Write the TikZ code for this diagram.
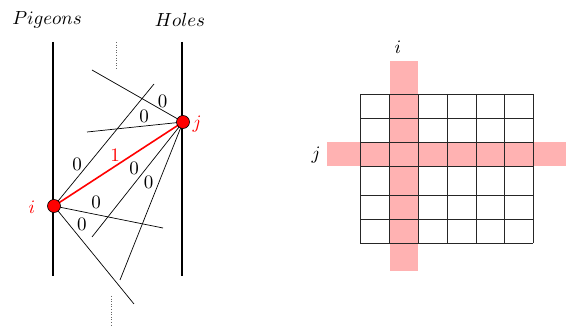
\documentclass[tikz,border=0pt]{standalone}
\usepackage{graphicx}
\newcommand{\bg}[1]{\scalebox{1.9}{$#1$}}
\begin{document}
\begin{tikzpicture}[x=1pt,y=-1pt,
  zero/.style={inner sep=0pt},
  thinln/.style={line width=0.7pt},
  pole/.style={line width=2.6pt},
  vtx/.style={circle, draw=black, fill=red, minimum size=13pt, inner sep=0pt, line width=0.6pt},
  pinkf/.style={fill=red!30, draw=none},
  gridln/.style={line width=0.8pt, black!85},
  dots/.style={dotted, line width=0.6pt, black!60}]
\useasboundingbox (0,0) rectangle (566,326);

% titles
\node (tp) at (47,20) {\bg{Pigeons}};
\node (th) at (180,20) {\bg{Holes}};

% poles
\coordinate (lt) at (53,42); \coordinate (lb) at (53,276);
\coordinate (rt) at (182,42); \coordinate (rb) at (182,276);
\draw[pole] (lt) -- (lb);
\draw[pole] (rt) -- (rb);

% dotted
\coordinate (d1a) at (116,42); \coordinate (d1b) at (116,70);
\coordinate (d2a) at (111,296); \coordinate (d2b) at (111,325);
\draw[dots] (d1a) -- (d1b);
\draw[dots] (d2a) -- (d2b);

% endpoints
\coordinate (I) at (54,206);
\coordinate (J) at (183,122);
\coordinate (e1) at (92,70);
\coordinate (e2) at (87,132);
\coordinate (e3) at (92,237);
\coordinate (e4) at (120,280);
\coordinate (f1) at (154,84);
\coordinate (f2) at (163,228);
\coordinate (f3) at (134,304);

\draw[thinln] (J) -- (e1);
\draw[thinln] (J) -- (e2);
\draw[thinln] (J) -- (e3);
\draw[thinln] (J) -- (e4);
\draw[thinln] (I) -- (f1);
\draw[thinln] (I) -- (f2);
\draw[thinln] (I) -- (f3);
\draw[red, line width=1.6pt] (I) -- (J);

\node[vtx] (ni) at (I) {};
\node[vtx] (nj) at (J) {};
\node[red] (li) at (32,207) {\bg{i}};
\node[red] (lj) at (197,124) {\bg{j}};

% labels
\node[zero] (z1) at (162.5,101.5) {\bg{0}};
\node[zero] (z2) at (144,116) {\bg{0}};
\node[zero] (z3) at (77,164) {\bg{0}};
\node[zero, red] (one) at (115,155) {\bg{1}};
\node[zero] (z4) at (134,168) {\bg{0}};
\node[zero] (z5) at (148.5,182.5) {\bg{0}};
\node[zero] (z6) at (96,202.5) {\bg{0}};
\node[zero] (z7) at (82,224) {\bg{0}};

% matrix
\fill[pinkf] (390,61) rectangle (418,271);
\fill[pinkf] (327,142) rectangle (566,166);
\foreach \x in {360,389,418,447,476,504,533} \draw[gridln] (\x,94) -- (\x,243);
\foreach \y in {94,118,142,166,195,219,243} \draw[gridln] (360,\y) -- (533,\y);
\node (gi) at (398,47) {\bg{i}};
\node (gj) at (316,155) {\bg{j}};
\end{tikzpicture}
\end{document}
